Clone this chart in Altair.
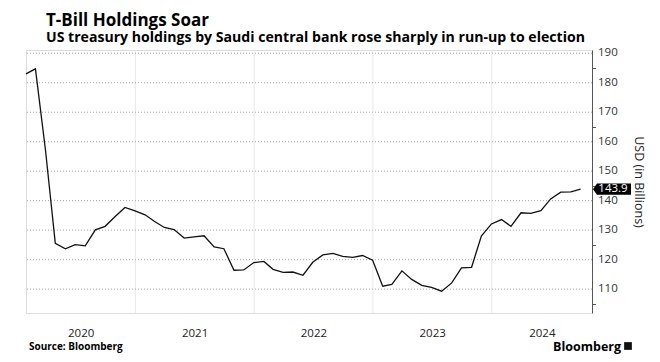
import altair as alt
import pandas as pd

# Monthly US treasury holdings of Saudi central bank (USD bn), month-end
start_month = "2020-01-31"
holdings = [183.0, 184.7, 157.0, 125.5, 123.7, 125.1, 124.7, 130.1, 131.3, 134.6,
            137.7, 136.5, 135.2, 133.0, 130.9, 130.2, 127.3, 127.7, 128.1, 124.3,
            123.7, 116.4, 116.5, 119.0, 119.4, 116.7, 115.7, 115.8, 114.7, 119.1,
            121.6, 122.1, 121.1, 120.8, 121.4, 119.8, 111.0, 111.6, 116.2, 113.3,
            111.3, 110.6, 109.3, 112.1, 117.2, 117.4, 128.0, 132.1, 133.6, 131.3,
            135.9, 135.7, 136.6, 140.6, 142.9, 143.0, 143.9]
year_starts = ["2021-01-01", "2022-01-01", "2023-01-01", "2024-01-01"]
y_major = [110, 120, 130, 140, 150, 160, 170, 180, 190]
y_all_ticks = [105, 110, 115, 120, 125, 130, 135, 140, 145, 150, 155, 160, 165,
               170, 175, 180, 185, 190]
x_start = pd.Timestamp("2020-01-31")
x_end = pd.Timestamp("2024-11-04")
years = [2020, 2021, 2022, 2023, 2024]

dates = pd.date_range(start_month, periods=len(holdings), freq="ME")
df = pd.DataFrame({"date": dates, "value": holdings})
rules_df = pd.DataFrame({"date": pd.to_datetime(year_starts)})
hgrid_df = pd.DataFrame({"value": y_major, "label": [str(v) for v in y_major]})
last_df = pd.DataFrame({"date": [dates[-1]], "value": [holdings[-1]],
                        "label": [f"{holdings[-1]:.1f}"]})


def dt(ts):
    return alt.DateTime(year=ts.year, month=ts.month, date=ts.day)


# label each year at the centre of its visible span
label_vals = []
for yr in years:
    a = max(pd.Timestamp(f"{yr}-01-01"), x_start)
    b = min(pd.Timestamp(f"{yr + 1}-01-01"), x_end)
    label_vals.append(dt(a + (b - a) / 2))

W, H = 566, 263
FONT = "Open Sans"

x_scale = alt.Scale(domain=[dt(x_start), dt(x_end)])
y_scale = alt.Scale(domain=[101.9, 191.1], nice=False, zero=False)

x_axis = alt.Axis(values=label_vals, format="%Y", grid=False, ticks=False,
                  domain=False, labelPadding=14, labelFontSize=11.5,
                  labelColor="#222", labelFont=FONT, title=None,
                  labelOverlap=False)

y_axis = alt.Axis(orient="right", values=y_all_ticks, tickSize=3.5, labels=False,
                  grid=False, domainColor="#555", tickColor="#555",
                  title="USD (in Billions)", titleFont=FONT, titleFontSize=12.5,
                  titleFontWeight="normal", titleColor="#222", titlePadding=35)

# vertical year-boundary rules carry the x axis; horizontal grid carries the y axis
vgrid = alt.Chart(rules_df).mark_rule(color="#e8e8e8", strokeWidth=1).encode(
    x=alt.X("date:T", scale=x_scale, axis=x_axis))
hgrid = alt.Chart(hgrid_df).mark_rule(color="#a8a8a8", strokeWidth=1,
                                      strokeDash=[1, 2]).encode(
    y=alt.Y("value:Q", scale=y_scale, axis=y_axis))
ylabels = alt.Chart(hgrid_df).mark_text(align="left", baseline="middle", fontSize=11.5,
                                        font=FONT, color="#333").encode(
    x=alt.value(W + 6), y=alt.Y("value:Q", scale=y_scale), text="label:N")

line = alt.Chart(df).mark_line(color="#111", strokeWidth=1.3).encode(
    x=alt.X("date:T", scale=x_scale),
    y=alt.Y("value:Q", scale=y_scale),
)

box_path = "M-1,0 L-0.79,-0.3 L1,-0.3 L1,0.3 L-0.79,0.3 Z"
tag = alt.Chart(last_df).mark_point(shape=box_path, filled=True, color="#000",
                                    opacity=1, size=1444, strokeWidth=0).encode(
    x=alt.value(W + 20), y=alt.Y("value:Q", scale=y_scale))
tag_text = alt.Chart(last_df).mark_text(color="white", fontSize=11.5, font=FONT,
                                        align="center", baseline="middle", dx=1).encode(
    x=alt.value(W + 20), y=alt.Y("value:Q", scale=y_scale), text="label:N")

source = alt.Chart(alt.Data(values=[{"t": "Source: Bloomberg"}])).mark_text(
    align="left", baseline="alphabetic", fontSize=10, fontWeight="bold", font=FONT,
    color="#000").encode(x=alt.value(3), y=alt.value(H + 37), text="t:N")
brand = alt.Chart(alt.Data(values=[{"t": "Bloomberg"}])).mark_text(
    align="right", baseline="alphabetic", fontSize=12.5, fontWeight="bold", font=FONT,
    color="#000").encode(x=alt.value(W + 29), y=alt.value(H + 38), text="t:N")
brand_icon = alt.Chart(alt.Data(values=[{"t": 1}])).mark_square(
    color="#111", size=60, opacity=1).encode(x=alt.value(W + 36), y=alt.value(H + 33))

chart = alt.layer(vgrid, hgrid, ylabels, line, tag, tag_text, source, brand,
                  brand_icon).properties(
    width=W, height=H,
    autosize=alt.AutoSizeParams(type="none"),
    padding={"left": 18, "top": 42, "right": 60, "bottom": 41},
    title=alt.TitleParams(
        text="T-Bill Holdings Soar",
        subtitle="US treasury holdings by Saudi central bank rose sharply in run-up to election",
        anchor="start", frame="group", font=FONT, fontSize=17, fontWeight="bold",
        color="#000", subtitleFont=FONT, subtitleFontSize=14.1, subtitleFontWeight="bold",
        subtitleColor="#000", subtitlePadding=1, offset=1, dx=20),
).configure_view(stroke=None).configure(background="white")

chart.save("out.html", embed_options={"renderer": "svg", "actions": False})
